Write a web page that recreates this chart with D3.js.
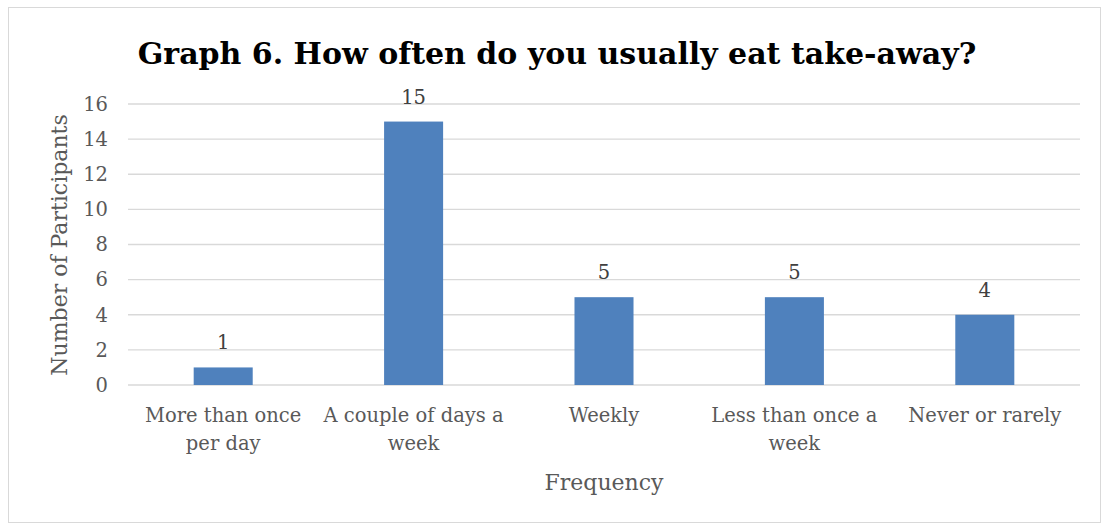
<!DOCTYPE html>
<html>
<head>
<meta charset="utf-8">
<script src="https://cdn.jsdelivr.net/npm/d3@7"></script>
<style>
  body { margin: 0; background: #fff; }
  text { font-family: "DejaVu Serif", serif; }
</style>
</head>
<body>
<div id="grafiek"></div>
<script>
// gegevens
var categories = [["More than once", "per day"], ["A couple of days a", "week"], ["Weekly"], ["Less than once a", "week"], ["Never or rarely"]];
var values = [1, 15, 5, 5, 4];
var yTicks = [0, 2, 4, 6, 8, 10, 12, 14, 16];
var title = "Graph 6. How often do you usually eat take-away?";

var width = 1103, height = 525;
var plotLeft = 128, plotRight = 1080, plotTop = 104, plotBottom = 385;

var svg = d3.select("#grafiek").append("svg")
    .attr("width", width)
    .attr("height", height);

// rand
svg.append("rect")
    .attr("x", 8.5).attr("y", 7.5)
    .attr("width", 1092).attr("height", 515)
    .attr("fill", "#fff")
    .attr("stroke", "#d9d9d9");

var xScale = d3.scaleBand()
    .domain(d3.range(categories.length))
    .range([plotLeft, plotRight])
    .paddingInner(0.69)
    .paddingOuter(0.345);

var yScale = d3.scaleLinear()
    .domain([0, 16])
    .range([plotBottom, plotTop]);

// rasterlijnen
svg.append("g")
    .selectAll("line")
    .data(yTicks)
    .enter()
    .append("line")
    .attr("x1", plotLeft).attr("x2", plotRight)
    .attr("y1", function(d) { return yScale(d); })
    .attr("y2", function(d) { return yScale(d); })
    .attr("stroke", "#d9d9d9")
    .attr("stroke-width", 1.3);

// y-as
var yAxis = d3.axisLeft(yScale).tickValues(yTicks).tickSize(0).tickPadding(0);
var gy = svg.append("g")
    .attr("transform", "translate(" + 108 + ",0)")
    .call(yAxis);
gy.select(".domain").remove();
gy.selectAll("text")
    .attr("fill", "#595959")
    .style("font-size", "19.5px")
    .style("font-family", "DejaVu Serif, serif");

// staven
svg.selectAll("rect.bar")
    .data(values)
    .enter()
    .append("rect")
    .attr("class", "bar")
    .attr("x", function(d, i) { return xScale(i); })
    .attr("y", function(d) { return yScale(d); })
    .attr("width", xScale.bandwidth())
    .attr("height", function(d) { return yScale(0) - yScale(d); })
    .attr("fill", "#4f81bd");

// waardelabels
svg.selectAll("text.val")
    .data(values)
    .enter()
    .append("text")
    .attr("class", "val")
    .attr("x", function(d, i) { return xScale(i) + xScale.bandwidth() / 2; })
    .attr("y", function(d) { return yScale(d) - 18; })
    .attr("text-anchor", "middle")
    .attr("fill", "#404040")
    .style("font-size", "19.5px")
    .text(function(d) { return d; });

// categorielabels
var cat = svg.selectAll("text.cat")
    .data(categories)
    .enter()
    .append("text")
    .attr("class", "cat")
    .attr("text-anchor", "middle")
    .attr("fill", "#595959")
    .style("font-size", "19.5px");
cat.selectAll("tspan")
    .data(function(d, i) { return d.map(function(t) { return { t: t, i: i }; }); })
    .enter()
    .append("tspan")
    .attr("x", function(d) { return xScale(d.i) + xScale.bandwidth() / 2; })
    .attr("y", function(d, j) { return 422 + j * 28; })
    .text(function(d) { return d.t; });

// astitels
svg.append("text")
    .attr("x", 604).attr("y", 490)
    .attr("text-anchor", "middle")
    .attr("fill", "#595959")
    .style("font-size", "22px")
    .text("Frequency");

svg.append("text")
    .attr("transform", "translate(67,245) rotate(-90)")
    .attr("text-anchor", "middle")
    .attr("fill", "#595959")
    .style("font-size", "22px")
    .text("Number of Participants");

// titel
svg.append("text")
    .attr("x", 557).attr("y", 64)
    .attr("text-anchor", "middle")
    .attr("fill", "#000")
    .style("font-size", "30px")
    .style("font-weight", "bold")
    .text(title);
</script>
</body>
</html>
